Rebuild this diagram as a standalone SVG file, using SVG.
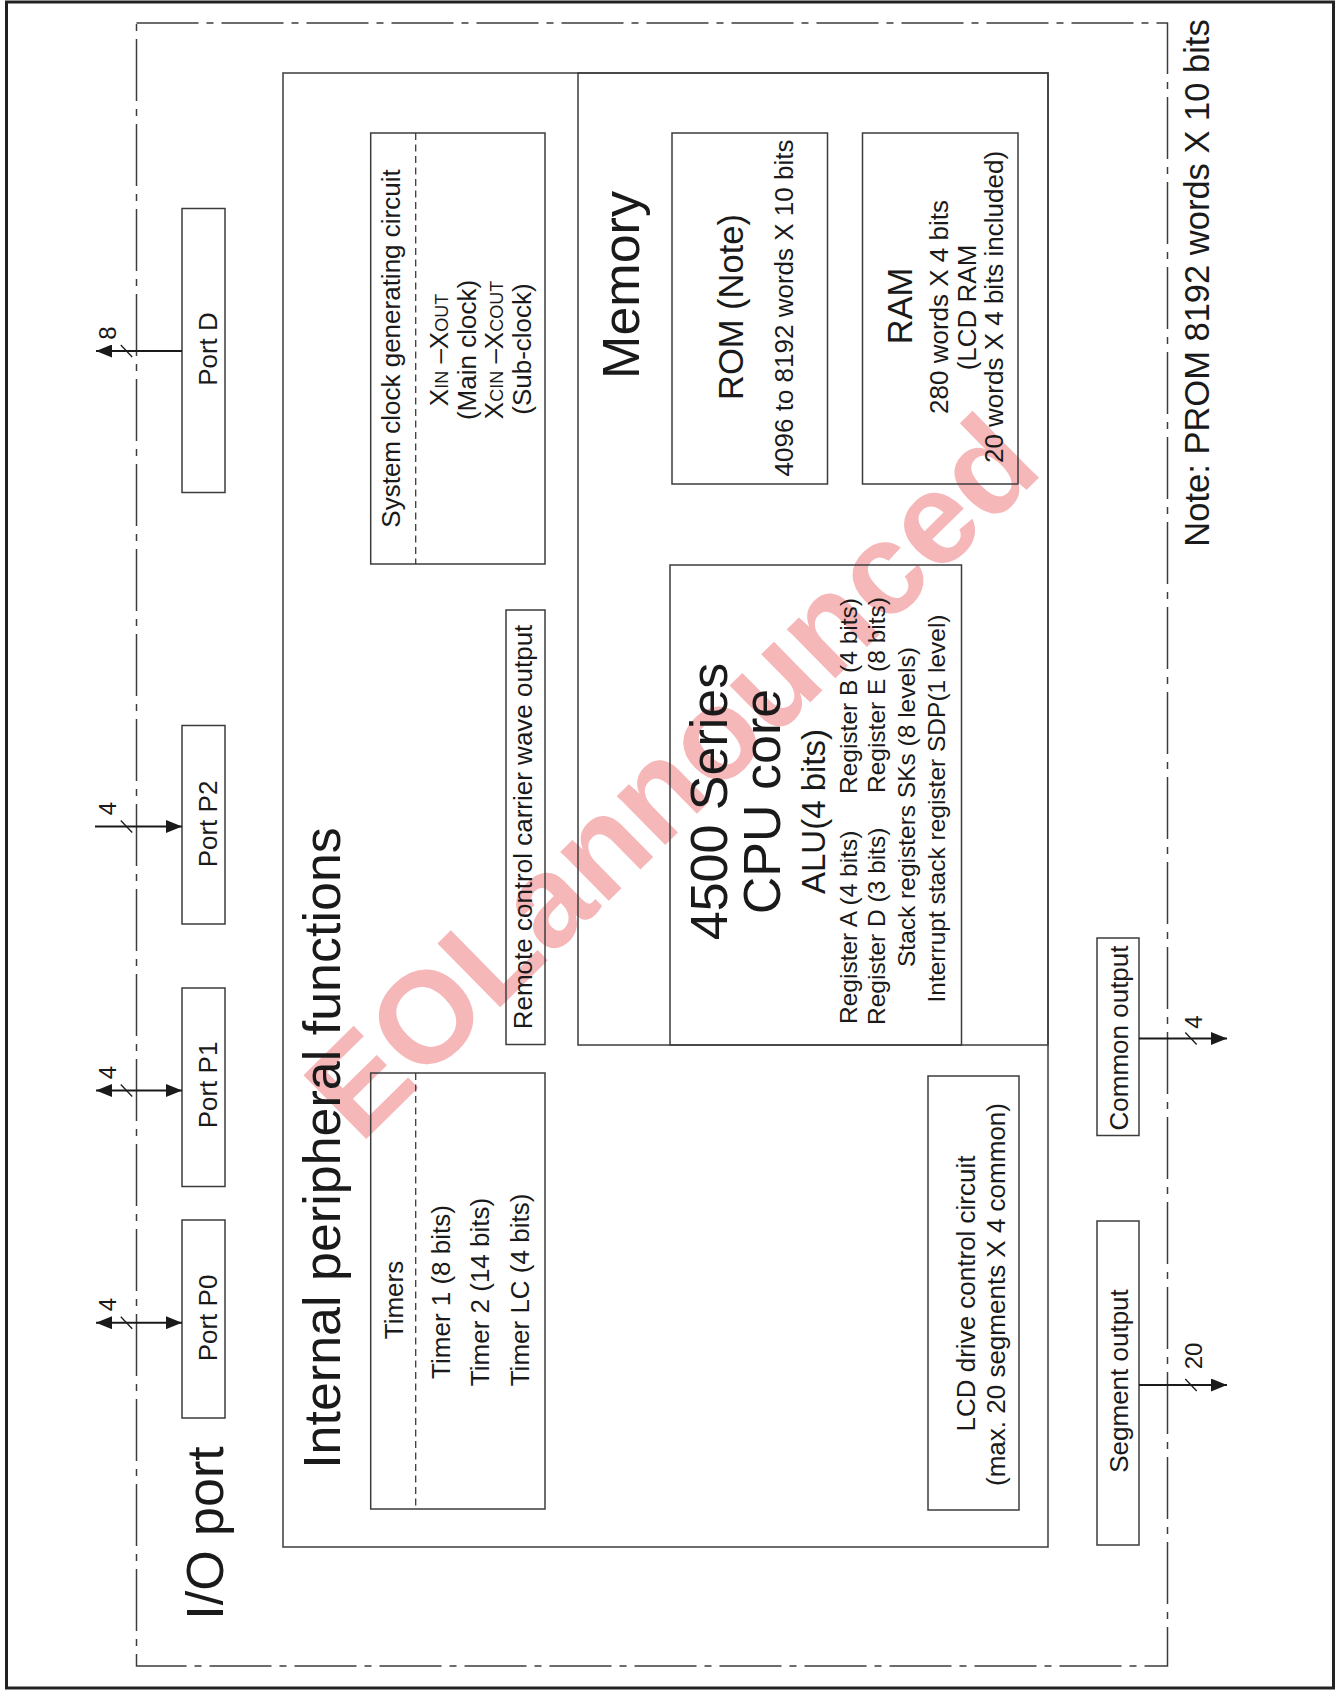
<svg xmlns="http://www.w3.org/2000/svg" width="1337" height="1690" viewBox="0 0 1337 1690">
<defs>
<style>
text { font-family: "Liberation Sans", Arial, Helvetica, sans-serif; fill: #1a1a1a; text-anchor: middle; }
.s { font-size: 26px; }
.r { font-size: 24.5px; }
.m { font-size: 34.5px; }
.l { font-size: 52px; }
.n { font-size: 24px; }
.st { text-anchor: start; }
.en { text-anchor: end; }
.box { fill: none; stroke: #3c3c3c; stroke-width: 1.5; }
.div { fill: none; stroke: #3c3c3c; stroke-width: 1.3; stroke-dasharray: 7 4.5; }
.dd { fill: none; stroke: #3c3c3c; stroke-width: 1.5; stroke-dasharray: 62 8 7 8; }
.frame { fill: none; stroke: #222; stroke-width: 3; }
.wire { stroke: #1a1a1a; stroke-width: 2; fill: none; }
.tick { stroke: #1a1a1a; stroke-width: 1.3; }
.wm { font-family: "Liberation Sans", Arial, sans-serif; font-weight: bold; font-size: 130px; fill: #f6b7b9; text-anchor: start; }
</style>
<marker id="ah" viewBox="0 0 16 13" refX="16" refY="6.5" markerWidth="16" markerHeight="13" markerUnits="userSpaceOnUse" orient="auto-start-reverse"><path d="M0,0 L16,6.5 L0,13 Z" fill="#1a1a1a"/></marker>
</defs>

<rect x="0" y="0" width="1337" height="1690" fill="#fff"/>

<text class="wm" transform="translate(360,1145) rotate(-44.5)">EOLannounced</text>

<rect class="frame" x="6.5" y="2" width="1327" height="1686"/>

<g id="io-port">
<rect class="dd" x="136.5" y="23" width="1031" height="1643"/>
<text class="l" transform="translate(223,1533) rotate(-90)">I/O port</text>
</g>

<text id="note" class="m" transform="translate(1209,283) rotate(-90)">Note: PROM 8192 words X 10 bits</text>

<g id="port-d">
<rect class="box" x="182" y="208.5" width="43" height="284"/>
<text class="s" transform="translate(217,349) rotate(-90)">Port D</text>
</g>
<g id="port-p2">
<rect class="box" x="182" y="725.5" width="43" height="198.5"/>
<text class="s" transform="translate(217,824) rotate(-90)">Port P2</text>
</g>
<g id="port-p1">
<rect class="box" x="182" y="988" width="43" height="198.5"/>
<text class="s" transform="translate(217,1085) rotate(-90)">Port P1</text>
</g>
<g id="port-p0">
<rect class="box" x="182" y="1220" width="43" height="198"/>
<text class="s" transform="translate(217,1318) rotate(-90)">Port P0</text>
</g>

<g id="internal-peripheral-functions">
<rect class="box" x="283" y="73" width="765" height="1474"/>
<text class="l" transform="translate(340,1148) rotate(-90)">Internal peripheral functions</text>
</g>

<g id="system-clock">
<rect class="box" x="370.7" y="133" width="174.3" height="431"/>
<line class="div" x1="415.7" y1="133" x2="415.7" y2="564"/>
<text class="s" transform="translate(400,348.5) rotate(-90)">System clock generating circuit</text>
<text class="s" transform="translate(448,350) rotate(-90)">X<tspan font-size="18">IN</tspan> –X<tspan font-size="18">OUT</tspan></text>
<text class="s" transform="translate(475.5,350) rotate(-90)">(Main clock)</text>
<text class="s" transform="translate(503,350) rotate(-90)">X<tspan font-size="18">CIN</tspan> –X<tspan font-size="18">COUT</tspan></text>
<text class="s" transform="translate(530.5,349) rotate(-90)">(Sub-clock)</text>
</g>

<g id="remote-control">
<rect class="box" x="506" y="610" width="39" height="434.5"/>
<text class="s" transform="translate(532,827) rotate(-90)">Remote control carrier wave output</text>
</g>

<g id="timers">
<rect class="box" x="370.7" y="1073" width="174.3" height="436"/>
<line class="div" x1="415.7" y1="1073" x2="415.7" y2="1509"/>
<text class="s" transform="translate(403,1300) rotate(-90)">Timers</text>
<text class="s" transform="translate(450,1292) rotate(-90)">Timer 1 (8 bits)</text>
<text class="s" transform="translate(489,1292) rotate(-90)">Timer 2 (14 bits)</text>
<text class="s" transform="translate(529,1290) rotate(-90)">Timer LC (4 bits)</text>
</g>

<g id="memory">
<rect class="box" x="578" y="73" width="470" height="972"/>
<text class="l" transform="translate(639,285) rotate(-90)">Memory</text>
</g>

<g id="rom">
<rect class="box" x="672" y="133" width="155.5" height="351"/>
<text class="m" transform="translate(743,307) rotate(-90)">ROM (Note)</text>
<text class="s" transform="translate(793,308) rotate(-90)">4096 to 8192 words X 10 bits</text>
</g>

<g id="ram">
<rect class="box" x="862.5" y="133" width="155.5" height="351"/>
<text class="m" transform="translate(911.5,306) rotate(-90)">RAM</text>
<text class="s" transform="translate(948,307) rotate(-90)">280 words X 4 bits</text>
<text class="s" transform="translate(975.5,307.5) rotate(-90)">(LCD RAM</text>
<text class="s" transform="translate(1003,307) rotate(-90)">20 words X 4 bits included)</text>
</g>

<g id="cpu-core">
<rect class="box" x="670" y="565" width="291.5" height="480"/>
<text class="l" transform="translate(727,801.5) rotate(-90)">4500 Series</text>
<text class="l" transform="translate(780,801.5) rotate(-90)">CPU core</text>
<text class="m" transform="translate(824.5,811.5) rotate(-90)" style="font-size:33px">ALU(4 bits)</text>
<text class="r st" transform="translate(856.5,1024) rotate(-90)">Register A (4 bits)</text>
<text class="r en" transform="translate(856.5,598) rotate(-90)">Register B (4 bits)</text>
<text class="r st" transform="translate(885,1025) rotate(-90)">Register D (3 bits)</text>
<text class="r en" transform="translate(885,597) rotate(-90)">Register E (8 bits)</text>
<text class="r" transform="translate(915,807) rotate(-90)">Stack registers SKs (8 levels)</text>
<text class="r" transform="translate(945,808.5) rotate(-90)">Interrupt stack register SDP(1 level)</text>
</g>

<g id="lcd-drive">
<rect class="box" x="928" y="1076" width="91" height="434"/>
<text class="s" transform="translate(975,1293.5) rotate(-90)">LCD drive control circuit</text>
<text class="s" transform="translate(1005,1294.5) rotate(-90)">(max. 20 segments X 4 common)</text>
</g>

<g id="common-output">
<rect class="box" x="1097" y="938" width="42" height="197.5"/>
<text class="s" transform="translate(1128,1038) rotate(-90)">Common output</text>
</g>
<g id="segment-output">
<rect class="box" x="1097" y="1221" width="42" height="324"/>
<text class="s" transform="translate(1128,1381) rotate(-90)">Segment output</text>
</g>

<g id="connectors">
<line class="wire" x1="182" y1="351" x2="96" y2="351" marker-end="url(#ah)"/>
<line class="tick" x1="120.8" y1="345" x2="132.2" y2="357"/>
<text class="n" transform="translate(116,333) rotate(-90)">8</text>

<line class="wire" x1="95" y1="826.5" x2="182" y2="826.5" marker-end="url(#ah)"/>
<line class="tick" x1="120.8" y1="820.5" x2="132.2" y2="832.5"/>
<text class="n" transform="translate(116,808.5) rotate(-90)">4</text>

<line class="wire" x1="96" y1="1090.5" x2="182" y2="1090.5" marker-start="url(#ah)" marker-end="url(#ah)"/>
<line class="tick" x1="120.8" y1="1084.5" x2="132.2" y2="1096.5"/>
<text class="n" transform="translate(116,1072.5) rotate(-90)">4</text>

<line class="wire" x1="96" y1="1322.7" x2="182" y2="1322.7" marker-start="url(#ah)" marker-end="url(#ah)"/>
<line class="tick" x1="120.8" y1="1316.7" x2="132.2" y2="1328.7"/>
<text class="n" transform="translate(116,1304.7) rotate(-90)">4</text>

<line class="wire" x1="1139" y1="1038.5" x2="1227" y2="1038.5" marker-end="url(#ah)"/>
<line class="tick" x1="1185.3" y1="1032.5" x2="1196.7" y2="1044.5"/>
<text class="n" transform="translate(1202,1022) rotate(-90)">4</text>

<line class="wire" x1="1139" y1="1385" x2="1227" y2="1385" marker-end="url(#ah)"/>
<line class="tick" x1="1185.3" y1="1379" x2="1196.7" y2="1391"/>
<text class="n" transform="translate(1202,1356) rotate(-90)">20</text>
</g>
</svg>
